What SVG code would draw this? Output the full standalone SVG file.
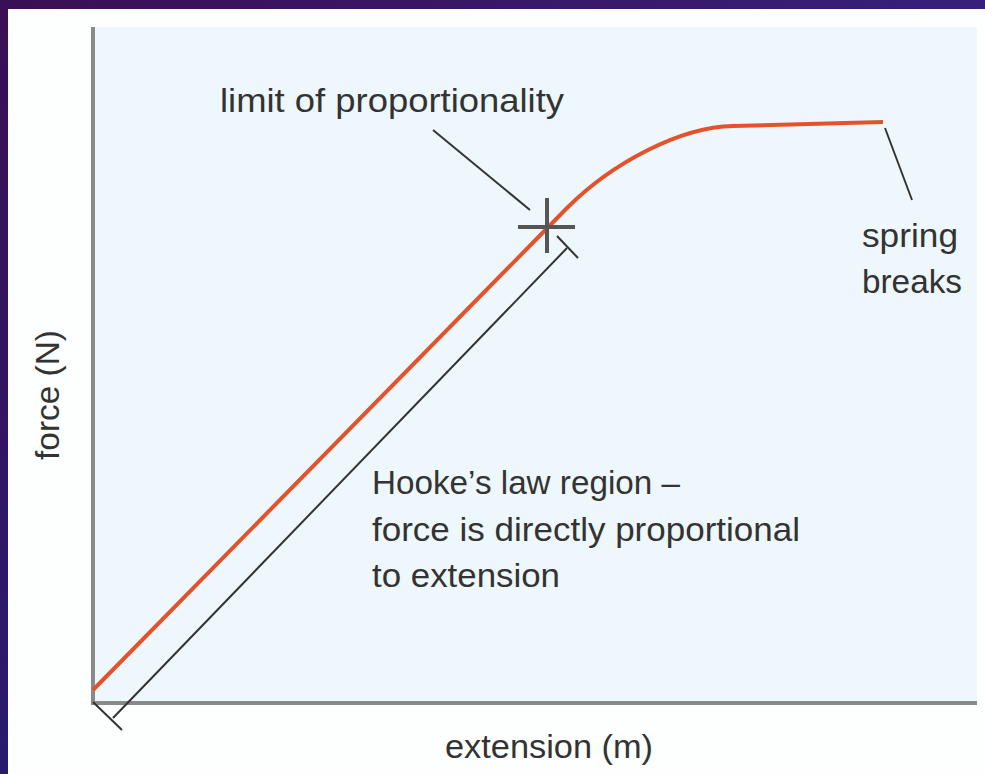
<svg xmlns="http://www.w3.org/2000/svg" width="985" height="774" viewBox="0 0 985 774">
<defs>
<linearGradient id="bg" x1="0" y1="0" x2="1" y2="1">
<stop offset="0" stop-color="#3b0f55"/>
<stop offset="0.5" stop-color="#2a1a6e"/>
<stop offset="1" stop-color="#18287a"/>
</linearGradient>
<linearGradient id="topbar" x1="0" y1="0" x2="1" y2="0">
<stop offset="0" stop-color="#3b0f55"/>
<stop offset="1" stop-color="#36207a"/>
</linearGradient>
<style>
.lbl{font-family:"Liberation Sans","Open Sans",sans-serif;font-size:34px;fill:#333}
.lead{stroke:#333;stroke-width:2;fill:none}
.axis{stroke:#8a8a8a;stroke-width:4;fill:none}
</style>
</defs>
<rect x="0" y="0" width="985" height="774" fill="url(#bg)"/>
<rect x="0" y="0" width="985" height="9" fill="url(#topbar)"/>
<rect x="8" y="9" width="977" height="765" fill="#fdfefe"/>
<rect x="94" y="27" width="883" height="676" fill="#eef7fb"/>

<g id="axes">
<line class="axis" x1="93" y1="27" x2="93" y2="704"/>
<line class="axis" x1="91" y1="703" x2="977" y2="703"/>
</g>

<g id="curve">
<path d="M93,690 L567,208 C612,163 680,127 733,126 L883,122" fill="none" stroke="#e4522c" stroke-width="4" stroke-linejoin="round"/>
</g>

<g id="limit-marker">
<line x1="518" y1="227" x2="575" y2="227" stroke="#555" stroke-width="4"/>
<line x1="547" y1="198" x2="547" y2="253" stroke="#555" stroke-width="4"/>
</g>

<g id="connectors">
<line class="lead" x1="433" y1="130" x2="530" y2="210"/>
<line class="lead" x1="885" y1="128" x2="912" y2="200"/>
<line class="lead" x1="113" y1="718" x2="567" y2="248"/>
<line class="lead" x1="93" y1="702" x2="122" y2="730"/>
<line class="lead" x1="557" y1="236" x2="578" y2="258"/>
</g>

<g id="label-limit"><text class="lbl" x="220" y="112" textLength="344" lengthAdjust="spacingAndGlyphs">limit of proportionality</text></g>
<g id="label-breaks">
<text class="lbl" x="862" y="247" textLength="96" lengthAdjust="spacingAndGlyphs">spring</text>
<text class="lbl" x="862" y="293" textLength="100" lengthAdjust="spacingAndGlyphs">breaks</text>
</g>
<g id="label-hooke">
<text class="lbl" x="372" y="494" textLength="308" lengthAdjust="spacingAndGlyphs">Hooke’s law region –</text>
<text class="lbl" x="372" y="541" textLength="428" lengthAdjust="spacingAndGlyphs">force is directly proportional</text>
<text class="lbl" x="372" y="587" textLength="188" lengthAdjust="spacingAndGlyphs">to extension</text>
</g>
<g id="label-x"><text class="lbl" x="445" y="758" textLength="208" lengthAdjust="spacingAndGlyphs">extension (m)</text></g>
<g id="label-y"><text class="lbl" transform="translate(59,460) rotate(-90)" textLength="130" lengthAdjust="spacingAndGlyphs">force (N)</text></g>
</svg>
